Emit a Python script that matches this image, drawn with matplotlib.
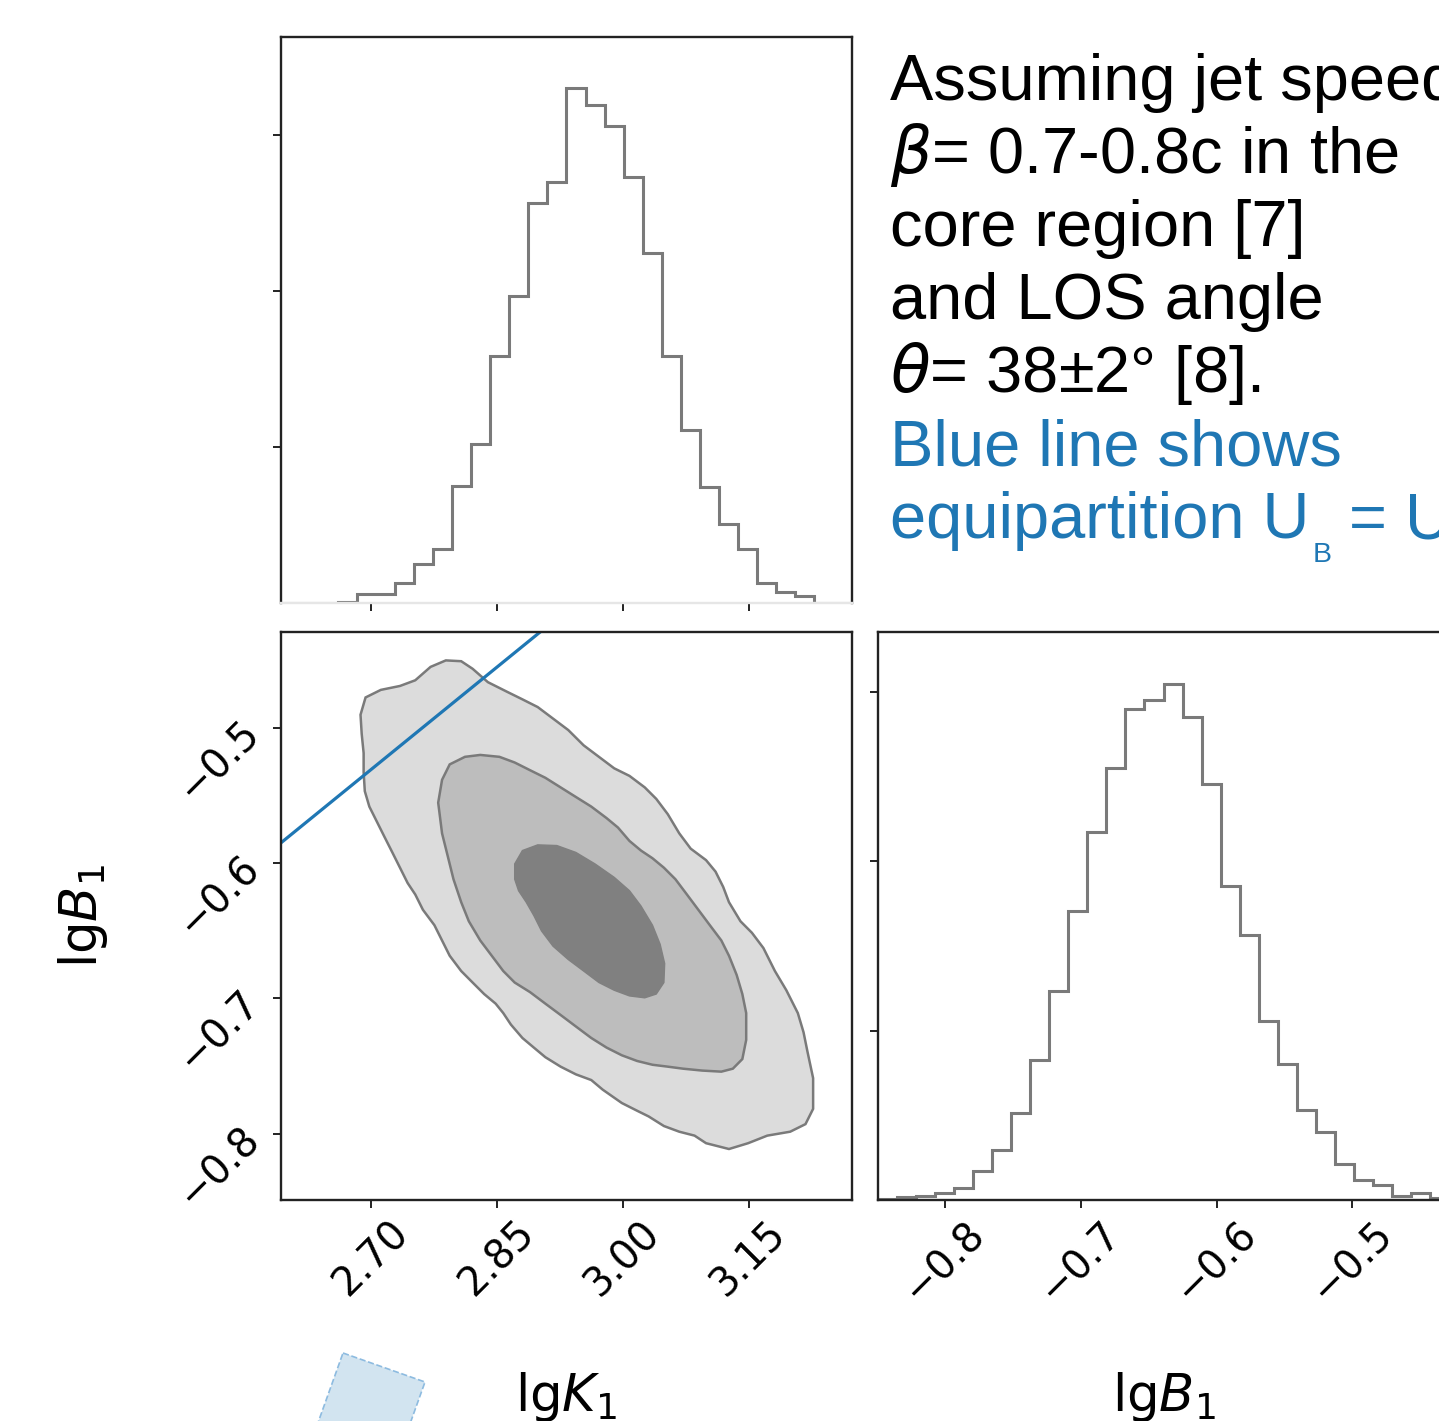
import numpy as np
import matplotlib
matplotlib.use("Agg")
import matplotlib.pyplot as plt
from matplotlib.patches import Polygon
from matplotlib.text import Annotation
from matplotlib.ticker import FixedLocator, NullFormatter

# ---- data ----
k_range = (2.593, 3.273)
b_range = (-0.849, -0.429)

k_ticks = [2.70, 2.85, 3.00, 3.15]
b_ticks = [-0.8, -0.7, -0.6, -0.5]
count_ticks = [500, 1000, 1500]

# 30-bin marginal histograms (counts)
k_counts = [0, 0, 1, 2, 28, 28, 64, 124, 172, 376, 508, 790, 982, 1282, 1348,
            1648, 1594, 1528, 1366, 1120, 790, 553, 373, 253, 172, 64, 34, 22, 0, 0]
b_counts = [3, 8, 11, 20, 36, 85, 147, 256, 414, 617, 854, 1086, 1275, 1450, 1475,
            1524, 1426, 1227, 926, 781, 527, 401, 265, 200, 107, 60, 43, 11, 20, 6]

# 2D contour outlines (lgK1, lgB1), outer to inner
outer_k = [2.6937, 2.7119, 2.7347, 2.7529, 2.7711, 2.7893, 2.8076, 2.8212, 2.8394, 2.8622,
           2.8805, 2.8987, 2.9169, 2.9351, 2.9534, 2.9716, 2.9898, 3.0080, 3.0262, 3.0399,
           3.0536, 3.0673, 3.0809, 3.0992, 3.1105, 3.1196, 3.1265, 3.1402, 3.1538, 3.1675,
           3.1812, 3.1948, 3.2085, 3.2153, 3.2199, 3.2267, 3.2267, 3.2176, 3.1994, 3.1721,
           3.1493, 3.1265, 3.0992, 3.0855, 3.0673, 3.0490, 3.0308, 3.0171, 2.9989, 2.9761,
           2.9625, 2.9442, 2.9260, 2.9078, 2.8941, 2.8805, 2.8668, 2.8577, 2.8486, 2.8349,
           2.8212, 2.8076, 2.7939, 2.7848, 2.7757, 2.7620, 2.7529, 2.7438, 2.7347, 2.7256,
           2.7164, 2.7073, 2.6982, 2.6928, 2.6914, 2.6914, 2.6891, 2.6877]
outer_b = [-0.4774, -0.4718, -0.4689, -0.4647, -0.4548, -0.4500, -0.4506, -0.4562, -0.4661, -0.4732,
           -0.4788, -0.4845, -0.4930, -0.5015, -0.5128, -0.5213, -0.5298, -0.5354, -0.5439, -0.5524,
           -0.5637, -0.5779, -0.5892, -0.5977, -0.6062, -0.6175, -0.6288, -0.6429, -0.6514, -0.6627,
           -0.6797, -0.6939, -0.7108, -0.7250, -0.7391, -0.7589, -0.7816, -0.7929, -0.7985, -0.8014,
           -0.8070, -0.8113, -0.8070, -0.8014, -0.7985, -0.7943, -0.7872, -0.7830, -0.7773, -0.7674,
           -0.7603, -0.7561, -0.7504, -0.7434, -0.7363, -0.7292, -0.7193, -0.7108, -0.7038, -0.6967,
           -0.6882, -0.6797, -0.6684, -0.6571, -0.6458, -0.6344, -0.6231, -0.6146, -0.6033, -0.5920,
           -0.5807, -0.5694, -0.5581, -0.5467, -0.5326, -0.5185, -0.5043, -0.4902]

middle_k = [2.7802, 2.7848, 2.7939, 2.8121, 2.8303, 2.8531, 2.8713, 2.8896, 2.9078, 2.9260,
            2.9442, 2.9625, 2.9807, 2.9943, 3.0080, 3.0217, 3.0354, 3.0490, 3.0627, 3.0764,
            3.0900, 3.1037, 3.1174, 3.1265, 3.1356, 3.1424, 3.1470, 3.1470, 3.1424, 3.1311,
            3.1174, 3.0946, 3.0718, 3.0536, 3.0354, 3.0171, 2.9989, 2.9807, 2.9625, 2.9442,
            2.9260, 2.9078, 2.8896, 2.8713, 2.8577, 2.8440, 2.8303, 2.8167, 2.8076, 2.7984,
            2.7916, 2.7848]
middle_b = [-0.5552, -0.5383, -0.5269, -0.5213, -0.5199, -0.5213, -0.5255, -0.5312, -0.5368, -0.5439,
            -0.5510, -0.5581, -0.5666, -0.5736, -0.5835, -0.5906, -0.5963, -0.6033, -0.6118, -0.6231,
            -0.6344, -0.6458, -0.6571, -0.6684, -0.6825, -0.6967, -0.7108, -0.7306, -0.7448, -0.7519,
            -0.7541, -0.7533, -0.7519, -0.7504, -0.7490, -0.7462, -0.7420, -0.7363, -0.7292, -0.7207,
            -0.7122, -0.7038, -0.6953, -0.6882, -0.6797, -0.6684, -0.6571, -0.6429, -0.6288, -0.6118,
            -0.5948, -0.5779]

inner_k = [2.8713, 2.8805, 2.8987, 2.9215, 2.9442, 2.9670, 2.9898, 3.0080, 3.0217, 3.0354,
           3.0445, 3.0499, 3.0490, 3.0399, 3.0262, 3.0080, 2.9898, 2.9716, 2.9534, 2.9351,
           2.9169, 2.9032, 2.8941, 2.8850, 2.8759, 2.8713]
inner_b = [-0.6005, -0.5906, -0.5864, -0.5869, -0.5920, -0.6005, -0.6104, -0.6203, -0.6316, -0.6458,
           -0.6599, -0.6741, -0.6882, -0.6967, -0.6995, -0.6981, -0.6939, -0.6882, -0.6797, -0.6712,
           -0.6613, -0.6500, -0.6387, -0.6288, -0.6203, -0.6118]

# equipartition U_B = U_e line
equip_k = [2.55, 3.00]
equip_b = [-0.6066, -0.3793]

black_lines = [
    "Assuming jet speed",
    r"$\beta$= 0.7-0.8c in the",
    "core region [7]",
    "and LOS angle",
    r"$\theta$= 38±2° [8].",
]
blue_lines = ["Blue line shows", "equipartition U"]
blue_tail = [("B", " = U"), ("e", "")]

# ---- figure ----
W, H = 1439, 1421
fig = plt.figure(figsize=(W / 100, H / 100), dpi=100)

def px_axes(left, top, right, bottom):
    return fig.add_axes([left / W, 1 - bottom / H, (right - left) / W, (bottom - top) / H])

ax_k = px_axes(281, 37, 852, 603)
ax_kb = px_axes(281, 632, 852, 1200)
ax_b = px_axes(878, 632, 1449, 1200)

line_grey = "#7a7a7a"
blue = "#1f77b4"
tick_fs = 28.5
label_fs = 37
note_fs = 46.8
note_font = "Liberation Sans"

for ax in (ax_k, ax_kb, ax_b):
    for sp in ax.spines.values():
        sp.set_linewidth(1.7)
        sp.set_color("#222222")
    ax.tick_params(length=6, width=1.4, labelsize=tick_fs, color="#222222")

# top marginal: lgK1
k_edges = np.linspace(k_range[0], k_range[1], len(k_counts) + 1)
ax_k.stairs(k_counts, k_edges, color=line_grey, lw=2.2)
ax_k.set_xlim(k_range)
ax_k.set_ylim(0, 1.1 * max(k_counts))
ax_k.xaxis.set_major_locator(FixedLocator(k_ticks))
ax_k.yaxis.set_major_locator(FixedLocator(count_ticks))
ax_k.xaxis.set_major_formatter(NullFormatter())
ax_k.yaxis.set_major_formatter(NullFormatter())
ax_k.spines["bottom"].set_color("#e6e6e6")

# 2D panel
ax_kb.fill(outer_k, outer_b, facecolor="#dcdcdc", edgecolor=line_grey, lw=1.8)
ax_kb.fill(middle_k, middle_b, facecolor="#bdbdbd", edgecolor=line_grey, lw=1.8)
ax_kb.fill(inner_k, inner_b, facecolor="#808080", edgecolor="#808080", lw=1.0)
ax_kb.plot(equip_k, equip_b, color=blue, lw=2.3)
ax_kb.set_xlim(k_range)
ax_kb.set_ylim(b_range)
ax_kb.xaxis.set_major_locator(FixedLocator(k_ticks))
ax_kb.yaxis.set_major_locator(FixedLocator(b_ticks))
ax_kb.set_xticklabels([f"{t:.2f}" for t in k_ticks])
ax_kb.set_yticklabels([f"\u2212{abs(t):.1f}" for t in b_ticks])
ax_kb.tick_params(axis="both", labelrotation=45)
ax_kb.set_xlabel(r"lg$K_1$", fontsize=label_fs)
ax_kb.set_ylabel(r"lg$B_1$", fontsize=label_fs)
ax_kb.xaxis.set_label_coords(0.5, -0.3)
ax_kb.yaxis.set_label_coords(-0.3, 0.5)

# right marginal: lgB1
b_edges = np.linspace(b_range[0], b_range[1], len(b_counts) + 1)
ax_b.stairs(b_counts, b_edges, color=line_grey, lw=2.2)
ax_b.set_xlim(b_range)
ax_b.set_ylim(0, 1.1 * max(b_counts))
ax_b.xaxis.set_major_locator(FixedLocator(b_ticks))
ax_b.yaxis.set_major_locator(FixedLocator(count_ticks))
ax_b.set_xticklabels([f"\u2212{abs(t):.1f}" for t in b_ticks])
ax_b.yaxis.set_major_formatter(NullFormatter())
ax_b.tick_params(axis="x", labelrotation=45)
ax_b.set_xlabel(r"lg$B_1$", fontsize=label_fs)
ax_b.xaxis.set_label_coords(0.5, -0.3)

# annotation text block
baselines = [100, 173, 246, 319, 392, 465, 538]
for txt, yb in zip(black_lines, baselines[:5]):
    fig.text(890 / W, 1 - yb / H, txt, color="black", fontsize=note_fs,
             family=note_font, va="baseline", ha="left")
fig.text(890 / W, 1 - baselines[5] / H, blue_lines[0], color=blue, fontsize=note_fs,
         family=note_font, va="baseline", ha="left")
prev = fig.text(890 / W, 1 - baselines[6] / H, blue_lines[1], color=blue, fontsize=note_fs,
                family=note_font, va="baseline", ha="left")
line_ref = prev
for sub, rest in blue_tail:
    sub_t = Annotation(sub, xy=(1, 0), xycoords=prev, xytext=(2.2, -8),
                       textcoords="offset points", fontsize=20.5, color=blue,
                       family=note_font, va="baseline", ha="left")
    fig.add_artist(sub_t)
    rest_t = Annotation(rest, xy=(1, 0), xycoords=(sub_t, line_ref), fontsize=note_fs,
                        color=blue, family=note_font, va="bottom", ha="left")
    fig.add_artist(rest_t)
    prev = rest_t

# clipped light-blue patch at the bottom edge
patch_px = [(343, 1353), (425, 1382), (392, 1474), (310, 1445)]
fig.patches.append(Polygon([(x / W, 1 - y / H) for x, y in patch_px], closed=True,
                           transform=fig.transFigure, facecolor="#d2e4f0",
                           edgecolor="#8dbbe0", lw=1.2, ls="--"))

fig.savefig("out.png", dpi=100)
